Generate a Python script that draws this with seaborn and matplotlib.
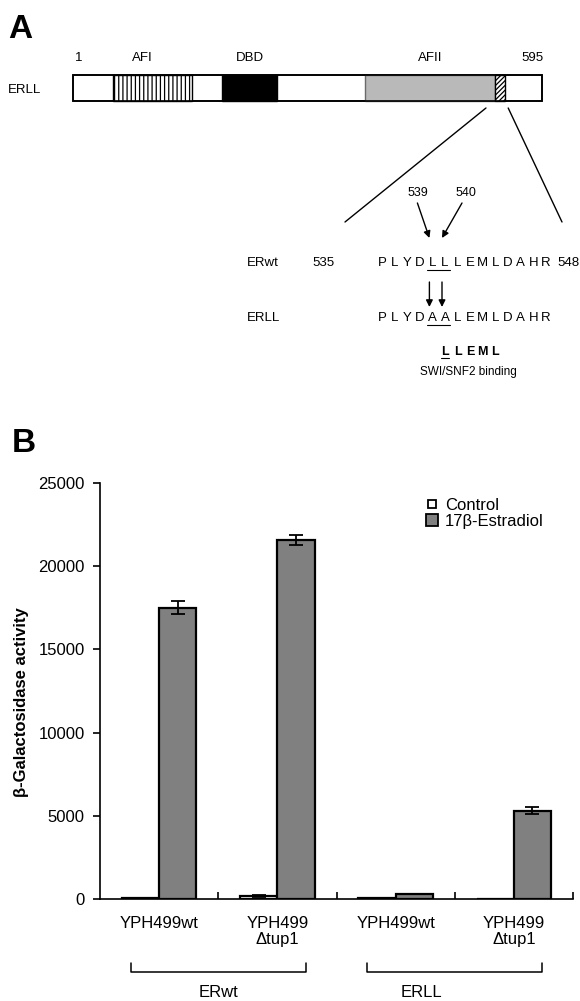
import numpy as np
import pandas as pd
import matplotlib
matplotlib.use("Agg")
import matplotlib.pyplot as plt
import seaborn as sns
from matplotlib.lines import Line2D
import matplotlib.transforms as mtrans

# ---------------- data: panel A (domain map) ----------------
protein_length = 595
domain_names = ["AFI", "DBD", "AFII", "LxxLL"]
domain_start = [52, 190, 371, 535]
domain_end = [152, 260, 535, 548]
seq_first, seq_last = 535, 548
seq_wt = "PLYDLLLEMLDAHR"
seq_ll = "PLYDAALEMLDAHR"
mutated_residues = [539, 540]
motif = "LLEML"
motif_first = 540
motif_label = "SWI/SNF2 binding"
row_names = ["ERwt", "ERLL"]

# ---------------- data: panel B (bar chart) ----------------
construct = ["ERwt", "ERwt", "ERLL", "ERLL"]
strain = ["YPH499wt", "YPH499\nΔtup1", "YPH499wt", "YPH499\nΔtup1"]
treatments = ["Control", "17β-Estradiol"]
control_mean = [50, 180, 50, 20]
control_err = [0, 40, 0, 0]
estradiol_mean = [17500, 21600, 300, 5300]
estradiol_err = [400, 300, 0, 200]
y_ticks = [0, 5000, 10000, 15000, 20000, 25000]
y_label = "β-Galactosidase activity"

# ---------------- style ----------------
sns.set_theme(style="white")
plt.rcParams["font.family"] = ["Liberation Sans", "DejaVu Sans"]
plt.rcParams["hatch.linewidth"] = 0.9
for k in ("text.color", "axes.labelcolor", "xtick.color", "ytick.color", "axes.edgecolor"):
    plt.rcParams[k] = "black"

W, H = 580, 1001
fig = plt.figure(figsize=(W / 100, H / 100), dpi=100)


def fx(px):
    return px / W


def fy(py):
    return 1 - py / H


# ---------- panel A ----------
fig.text(fx(8), fy(14), "A", fontsize=24, fontweight="bold", va="top", ha="left")

bar_l, bar_r, bar_t, bar_b = 73, 542, 75, 101
ax_dom = fig.add_axes([fx(bar_l), fy(bar_b), fx(bar_r) - fx(bar_l), (bar_b - bar_t) / H])
ax_dom.set_xlim(1, protein_length)
ax_dom.set_ylim(0, 1)
ax_dom.axis("off")

ax_dom.barh(0.5, protein_length - 1, left=1, height=1, color="white",
            edgecolor="black", linewidth=1.2, clip_on=False, zorder=1)
dom_style = {
    "AFI": dict(color="white", edgecolor="black", hatch="||||"),
    "DBD": dict(color="black", edgecolor="black"),
    "AFII": dict(color="#b9b9b9", edgecolor="#6a6a6a"),
    "LxxLL": dict(color="white", edgecolor="black", hatch="///////"),
}
for name, s, e in zip(domain_names, domain_start, domain_end):
    ax_dom.barh(0.5, e - s, left=s, height=1, linewidth=1.0, clip_on=False,
                zorder=2, **dom_style[name])
ax_dom.barh(0.5, protein_length - 1, left=1, height=1, fill=False,
            edgecolor="black", linewidth=1.2, clip_on=False, zorder=3)

tr = ax_dom.get_xaxis_transform()
for name, s, e in zip(domain_names[:3], domain_start[:3], domain_end[:3]):
    off = -10 if name == "AFI" else 0
    ax_dom.text((s + e) / 2 + off * 1.27, 1.65, name, transform=tr, ha="center",
                va="center", fontsize=9.5)
ax_dom.text(3, 1.65, "1", transform=tr, ha="left", va="center", fontsize=9.5)
ax_dom.text(protein_length + 2, 1.65, str(protein_length), transform=tr,
            ha="right", va="center", fontsize=9.5)

ov = fig.add_axes([0, fy(400), 1, 400 / H])
ov.set_xlim(0, W)
ov.set_ylim(400, 0)
ov.axis("off")

ov.text(8, 90, "ERLL", ha="left", va="center", fontsize=9.5)


def res_px(r):
    return bar_l + (r - 1) * (bar_r - bar_l) / (protein_length - 1)


# zoom lines
for r, end in ((domain_start[3], (345, 222)), (domain_end[3], (562, 222))):
    x0 = res_px(r)
    slope = (end[0] - x0) / (end[1] - bar_b)
    y_start = bar_b + 7
    ov.plot([x0 + slope * 7, end[0]], [y_start, end[1]], color="black", lw=1.0)

# sequences
x0_seq, dx_seq = 382, 12.6
row_y = {"ERwt": 263, "ERLL": 318}


def cx(res):
    return x0_seq + (res - seq_first) * dx_seq


for name, seq in zip(row_names, [seq_wt, seq_ll]):
    y = row_y[name]
    ov.text(247, y, name, ha="left", va="center", fontsize=9.5)
    for i, ch in enumerate(seq):
        ov.text(cx(seq_first + i), y, ch, ha="center", va="center", fontsize=9.5)
    ov.plot([cx(mutated_residues[0]) - 5, cx(mutated_residues[-1]) + 5],
            [y + 7, y + 7], color="black", lw=0.8)
ov.text(323, row_y["ERwt"], str(seq_first), ha="center", va="center", fontsize=9.5)
ov.text(580, row_y["ERwt"], str(seq_last), ha="right", va="center", fontsize=9.5)

# 539/540 labels + arrows
lab_off = [-15, 21]
tail_off = [-15, 17]
for r, lo, to in zip(mutated_residues, lab_off, tail_off):
    ov.text(cx(r) + lo, 193, str(r), ha="center", va="center", fontsize=9)
    ov.annotate("", xy=(cx(r) - 3, 238), xytext=(cx(r) + to, 203),
                arrowprops=dict(arrowstyle="-|>", color="black", lw=1.0,
                                mutation_scale=10, shrinkA=0, shrinkB=0))
    ov.annotate("", xy=(cx(r) - 3, 307), xytext=(cx(r) - 3, 282),
                arrowprops=dict(arrowstyle="-|>", color="black", lw=1.0,
                                mutation_scale=10, shrinkA=0, shrinkB=0))

# motif
for i, ch in enumerate(motif):
    ov.text(cx(motif_first + i), 352, ch, ha="center", va="center", fontsize=9,
            fontweight="bold")
ov.plot([cx(motif_first) - 4, cx(motif_first) + 4], [358, 358], color="black", lw=0.8)
ov.text((cx(motif_first) + cx(motif_first + len(motif) - 1)) / 2 - 2, 372,
        motif_label, ha="center", va="center", fontsize=8.5)

# ---------- panel B ----------
fig.text(fx(12), fy(428), "B", fontsize=24, fontweight="bold", va="top", ha="left")

keys = [c + "|" + s for c, s in zip(construct, strain)]
df = pd.DataFrame({
    "key": keys * 2,
    "treatment": [treatments[0]] * 4 + [treatments[1]] * 4,
    "value": control_mean + estradiol_mean,
})
errs = {treatments[0]: control_err, treatments[1]: estradiol_err}

ax = fig.add_axes([fx(100), fy(899), fx(573) - fx(100), (899 - 483) / H])
sns.barplot(data=df, x="key", y="value", hue="treatment", order=keys,
            hue_order=treatments,
            palette={treatments[0]: "white", treatments[1]: "#808080"},
            edgecolor="black", linewidth=1.6, width=0.63, errorbar=None,
            legend=False, ax=ax, saturation=1)

for cont, t in zip(ax.containers, treatments):
    for bar, e in zip(cont, errs[t]):
        if e > 0:
            ax.errorbar(bar.get_x() + bar.get_width() / 2, bar.get_height(),
                        yerr=e, fmt="none", ecolor="black", elinewidth=1.3,
                        capsize=5, capthick=1.3, zorder=5)

ax.set_xlim(-0.5, 3.5)
ax.set_ylim(0, 25000)
ax.set_yticks(y_ticks)
ax.set_yticklabels([str(v) for v in y_ticks], fontsize=12)
ax.set_xticks(range(len(keys)))
ax.set_xticklabels(strain, fontsize=12, linespacing=1.15)
ax.set_xticks([0.5, 1.5, 2.5, 3.5], minor=True)
ax.tick_params(axis="x", which="major", length=0, pad=12)
ax.tick_params(axis="x", which="minor", direction="in", length=5, width=1.2,
               bottom=True)
ax.tick_params(axis="y", which="major", direction="out", length=5, width=1.2,
               left=True, pad=6)
ax.set_xlabel("")
ax.set_ylabel(y_label, fontsize=12, fontweight="bold")
ax.yaxis.set_label_coords(-0.150, 0.474)
sns.despine(ax=ax)
for sp in ("left", "bottom"):
    ax.spines[sp].set_linewidth(1.2)
    ax.spines[sp].set_color("black")

# group brackets
btr = mtrans.blended_transform_factory(ax.transData, ax.transAxes)
groups = []
for c in construct:
    if c not in groups:
        groups.append(c)
label_shift = {"ERwt": 0.0, "ERLL": -0.28}
for g in groups:
    idx = [i for i, c in enumerate(construct) if c == g]
    center = (idx[0] + idx[-1]) / 2
    xl, xr = center - 0.74, center + 0.74
    ax.plot([xl, xl, xr, xr], [-0.154, -0.1755, -0.1755, -0.154], color="black",
            lw=1.1, transform=btr, clip_on=False)
    ax.text(center + label_shift[g], -0.2236, g, transform=btr, ha="center",
            va="center", fontsize=12)

# legend
handles = [
    Line2D([], [], marker="s", ls="none", markersize=6, markerfacecolor="white",
           markeredgecolor="black", markeredgewidth=1.3),
    Line2D([], [], marker="s", ls="none", markersize=9, markerfacecolor="#808080",
           markeredgecolor="black", markeredgewidth=1.3),
]
fig.legend(handles, treatments, loc="upper left",
           bbox_to_anchor=(fx(424), fy(498)), bbox_transform=fig.transFigure,
           frameon=False, fontsize=12, handlelength=0.9, handletextpad=0.35,
           labelspacing=0.05, borderpad=0, borderaxespad=0)

fig.savefig("out.png", dpi=100)
